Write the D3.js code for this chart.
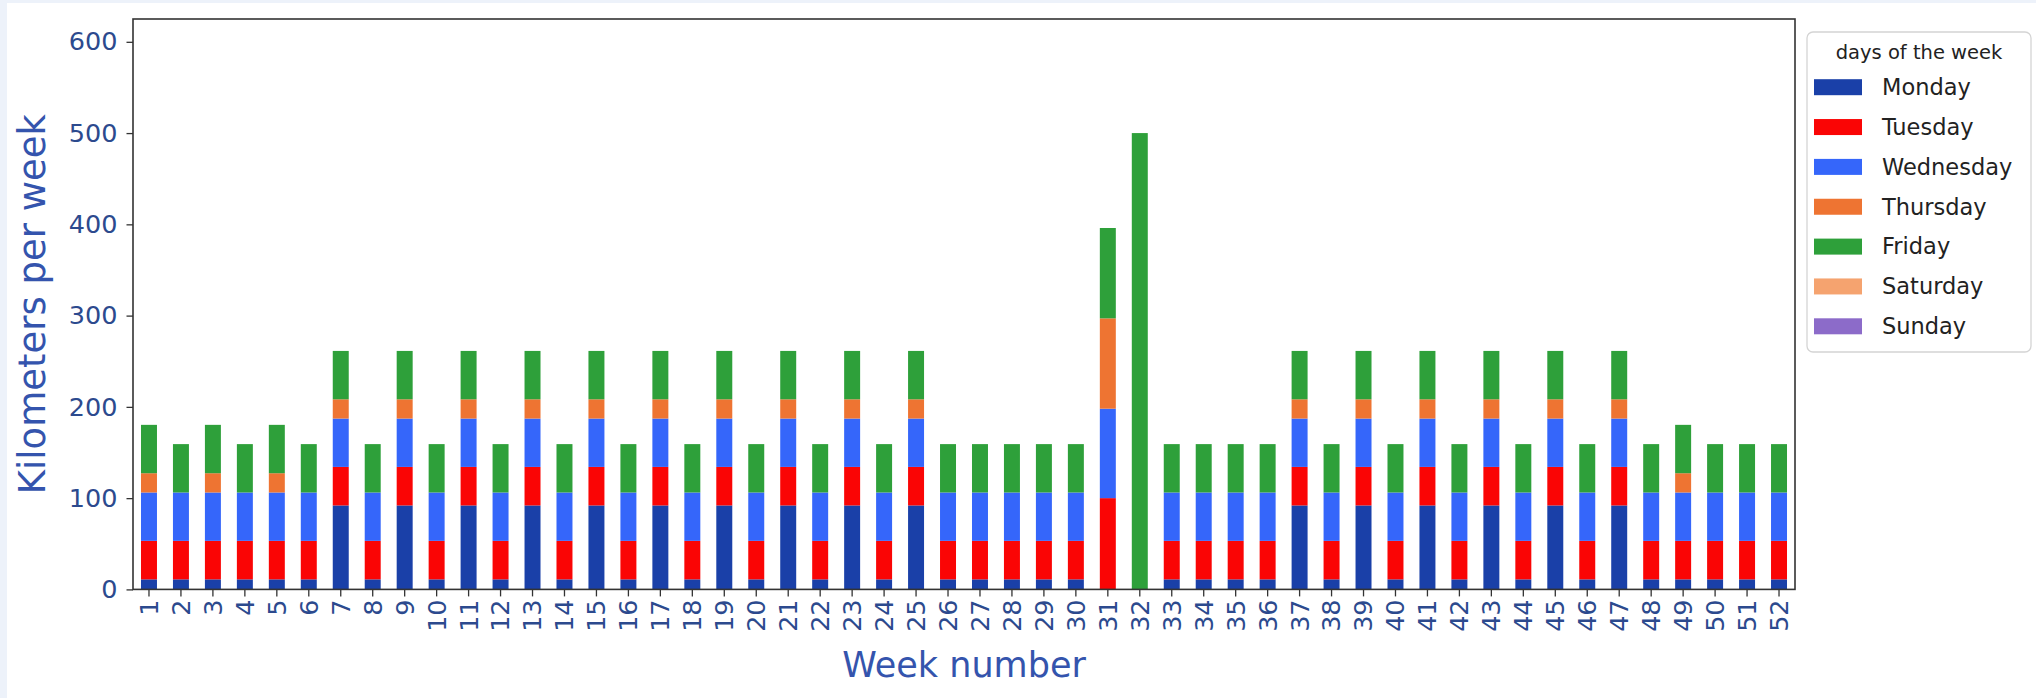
<!DOCTYPE html>
<html>
<head>
<meta charset="utf-8">
<script src="https://cdn.jsdelivr.net/npm/d3@7"></script>
<style>
  html, body { margin: 0; padding: 0; background: #edf2fa; }
  svg { display: block; }
  text { font-family: "DejaVu Sans", sans-serif; }
</style>
</head>
<body>
<svg id="chart" width="2036" height="698"></svg>
<script>
// ---- data ----
const weeks = d3.range(1, 53).map(String);
const days = ["Monday", "Tuesday", "Wednesday", "Thursday", "Friday", "Saturday", "Sunday"];
const dayColors = ["#1a40a8", "#fa0505", "#3566fa", "#ee7432", "#2ea03a", "#f5a36f", "#8c6bc9"];

const monday = [11,11,11,11,11,11,
  92,11,92,11,92,11,92,11,92,11,92,11,92,11,92,11,92,11,92,
  11,11,11,11,11,
  0,0,
  11,11,11,11,
  92,11,92,11,92,11,92,11,92,11,92,
  11,11,11,11,11];
const tuesday = [42.2,42.2,42.2,42.2,42.2,42.2,
  42.2,42.2,42.2,42.2,42.2,42.2,42.2,42.2,42.2,42.2,42.2,42.2,42.2,42.2,42.2,42.2,42.2,42.2,42.2,
  42.2,42.2,42.2,42.2,42.2,
  100,0,
  42.2,42.2,42.2,42.2,
  42.2,42.2,42.2,42.2,42.2,42.2,42.2,42.2,42.2,42.2,42.2,
  42.2,42.2,42.2,42.2,42.2];
const wednesday = [53,53,53,53,53,53,
  53,53,53,53,53,53,53,53,53,53,53,53,53,53,53,53,53,53,53,
  53,53,53,53,53,
  98,0,
  53,53,53,53,
  53,53,53,53,53,53,53,53,53,53,53,
  53,53,53,53,53];
const thursday = [21.1,0,21.1,0,21.1,0,
  21.1,0,21.1,0,21.1,0,21.1,0,21.1,0,21.1,0,21.1,0,21.1,0,21.1,0,21.1,
  0,0,0,0,0,
  99,0,
  0,0,0,0,
  21.1,0,21.1,0,21.1,0,21.1,0,21.1,0,21.1,
  0,21.1,0,0,0];
const friday = [53,53,53,53,53,53,
  53,53,53,53,53,53,53,53,53,53,53,53,53,53,53,53,53,53,53,
  53,53,53,53,53,
  99,500,
  53,53,53,53,
  53,53,53,53,53,53,53,53,53,53,53,
  53,53,53,53,53];
const saturday = new Array(52).fill(0);
const sunday = new Array(52).fill(0);
const yTicks = [0, 100, 200, 300, 400, 500, 600];
const yMax = 625;
const legendTitle = "days of the week";
const xLabel = "Week number";
const yLabel = "Kilometers per week";

// ---- build table ----
const series = [monday, tuesday, wednesday, thursday, friday, saturday, sunday];
const table = weeks.map((w, i) => {
  const row = { week: w };
  days.forEach((d, j) => { row[d] = series[j][i]; });
  return row;
});

// ---- layout ----
const svg = d3.select("#chart");
const W = 2036, H = 698;
const plot = { left: 133, right: 1795, top: 19, bottom: 589.4 };

svg.append("rect").attr("x", 7).attr("y", 3).attr("width", W - 7).attr("height", H - 3).attr("fill", "#ffffff");

const x = d3.scaleBand().domain(weeks).range([plot.left, plot.right]).paddingInner(0.5).paddingOuter(0.25);
const y = d3.scaleLinear().domain([0, yMax]).range([plot.bottom, plot.top]);
const color = d3.scaleOrdinal().domain(days).range(dayColors);

const stacked = d3.stack().keys(days)(table);

svg.append("g").selectAll("g").data(stacked).join("g")
  .attr("fill", d => color(d.key))
  .selectAll("rect").data(d => d).join("rect")
  .attr("x", d => x(d.data.week))
  .attr("width", x.bandwidth())
  .attr("y", d => y(d[1]))
  .attr("height", d => Math.max(0, y(d[0]) - y(d[1])));

const tickColor = "#2c4a8e";
const labelColor = "#3454ad";

// y axis
const yAxis = svg.append("g").attr("transform", `translate(${plot.left},0)`)
  .call(d3.axisLeft(y).tickValues(yTicks).tickSize(6.5).tickPadding(9).tickFormat(d3.format("d")));
yAxis.select(".domain").remove();
yAxis.selectAll(".tick line").attr("stroke", "#333").attr("stroke-width", 1.3);
yAxis.selectAll(".tick text").attr("fill", tickColor).style("font-size", "25.5px").style("font-family", "DejaVu Sans");

// x axis
const xAxis = svg.append("g").attr("transform", `translate(0,${plot.bottom})`)
  .call(d3.axisBottom(x).tickSize(7).tickPadding(3));
xAxis.select(".domain").remove();
xAxis.selectAll(".tick line").attr("stroke", "#333").attr("stroke-width", 1.3);
xAxis.selectAll(".tick text")
  .attr("fill", tickColor)
  .style("font-size", "25.5px").style("font-family", "DejaVu Sans")
  .attr("text-anchor", "end")
  .attr("transform", "translate(0,10) rotate(-90)")
  .attr("x", 0).attr("y", 0).attr("dy", "0.35em");

// frame
svg.append("rect").attr("x", plot.left).attr("y", plot.top)
  .attr("width", plot.right - plot.left).attr("height", plot.bottom - plot.top)
  .attr("fill", "none").attr("stroke", "#333").attr("stroke-width", 1.6);

// axis labels
svg.append("text").text(xLabel)
  .attr("x", (plot.left + plot.right) / 2).attr("y", 677)
  .attr("text-anchor", "middle").attr("fill", labelColor).style("font-size", "35px");
svg.append("text").text(yLabel)
  .attr("transform", `translate(45,${(plot.top + plot.bottom) / 2}) rotate(-90)`)
  .attr("text-anchor", "middle").attr("fill", labelColor).style("font-size", "37px");

// legend
const lg = svg.append("g");
lg.append("rect").attr("x", 1807).attr("y", 32).attr("width", 224).attr("height", 320)
  .attr("rx", 6).attr("fill", "#fff").attr("stroke", "#d4d4d4").attr("stroke-width", 1.3);
lg.append("text").text(legendTitle).attr("x", 1919).attr("y", 59)
  .attr("text-anchor", "middle").attr("fill", "#222").style("font-size", "19.5px");
days.forEach((d, i) => {
  const cy = 87.2 + i * 39.85;
  lg.append("rect").attr("x", 1814).attr("y", cy - 8).attr("width", 48).attr("height", 16).attr("fill", color(d));
  lg.append("text").text(d).attr("x", 1882).attr("y", cy).attr("dy", "0.35em")
    .attr("fill", "#222").style("font-size", "22.5px");
});
</script>
</body>
</html>
